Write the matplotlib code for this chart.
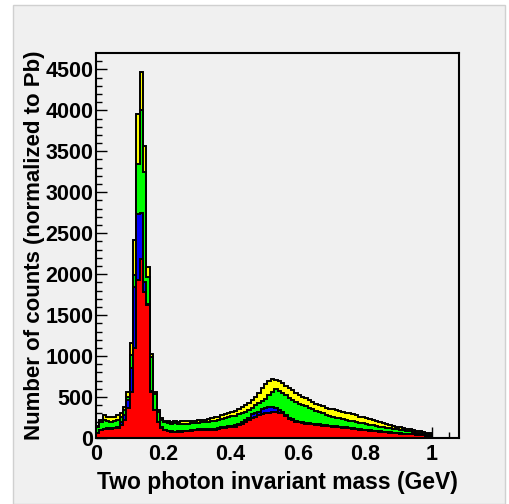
import numpy as np
import matplotlib.pyplot as plt
from matplotlib.patches import Rectangle

plt.rcParams['font.family'] = ['Liberation Sans', 'DejaVu Sans']
plt.rcParams['font.weight'] = 'bold'

# histogram binning: 100 bins of 0.01 GeV
bin_edges = np.linspace(0.0, 1.0, 101)

# stacked levels (top edge of each colour)
top_yellow = [150, 215, 280, 262, 252, 262, 285, 300, 382, 565,
              1162, 2423, 3960, 4467, 3561, 2082, 1024, 557, 341, 240,
              212, 205, 200, 203, 198, 205, 202, 208, 204, 212,
              218, 225, 222, 235, 245, 255, 262, 280, 298, 305,
              322, 335, 350, 375, 405, 430, 470, 505, 555, 610,
              655, 700, 716, 712, 690, 670, 640, 610, 585, 555,
              530, 505, 485, 462, 440, 420, 405, 390, 372, 360,
              350, 345, 335, 322, 310, 300, 292, 280, 262, 252,
              240, 228, 218, 205, 192, 180, 172, 160, 150, 140,
              130, 122, 115, 105, 98, 90, 80, 72, 65, 58]
top_green = [130, 200, 215, 205, 200, 210, 220, 260, 341, 504,
             1012, 1988, 3341, 4008, 3248, 1967, 992, 540, 320, 220,
             190, 182, 175, 178, 172, 170, 175, 172, 178, 180,
             185, 190, 195, 200, 205, 210, 220, 232, 245, 255,
             265, 272, 290, 305, 320, 345, 370, 400, 430, 455,
             480, 520, 560, 600, 575, 545, 520, 490, 465, 440,
             420, 400, 385, 370, 350, 330, 315, 300, 285, 272,
             260, 250, 240, 230, 220, 210, 202, 195, 185, 178,
             170, 162, 155, 145, 138, 130, 125, 118, 110, 104,
             98, 92, 85, 80, 72, 65, 58, 52, 45, 38]
top_blue = [60, 98, 112, 118, 120, 125, 130, 200, 280, 463,
            850, 1845, 2740, 2750, 1900, 1640, 570, 345, 200, 130,
            100, 88, 80, 78, 82, 80, 85, 90, 95, 100,
            105, 108, 110, 108, 112, 112, 120, 130, 140, 145,
            152, 160, 175, 195, 215, 250, 290, 300, 320, 350,
            370, 378, 375, 365, 340, 320, 285, 250, 230, 212,
            200, 195, 188, 180, 175, 170, 165, 160, 155, 150,
            146, 142, 140, 135, 130, 126, 120, 115, 108, 102,
            98, 94, 90, 85, 80, 77, 73, 70, 65, 60,
            57, 54, 52, 50, 47, 45, 40, 35, 30, 24]
top_red = [55, 98, 110, 115, 115, 120, 125, 160, 220, 362,
           565, 1100, 1927, 2191, 1780, 1620, 565, 341, 195, 125,
           95, 80, 75, 72, 75, 77, 80, 85, 90, 95,
           97, 98, 100, 100, 100, 102, 110, 118, 125, 132,
           138, 140, 155, 175, 195, 215, 240, 262, 280, 292,
           300, 310, 320, 321, 310, 300, 270, 232, 215, 200,
           190, 182, 176, 170, 165, 160, 155, 150, 146, 143,
           140, 136, 133, 128, 124, 120, 114, 108, 102, 97,
           93, 89, 85, 80, 76, 72, 68, 64, 60, 56,
           53, 50, 48, 46, 43, 41, 36, 31, 26, 20]

bg = '#f0f0f0'
fig = plt.figure(figsize=(5.09, 5.04), dpi=100, facecolor='white')
fig.patches.append(Rectangle((13 / 509, 0), 492 / 509, 499 / 504,
                             transform=fig.transFigure, facecolor=bg,
                             edgecolor='#d0d0d0', lw=1, zorder=-10))

ax = fig.add_axes([96 / 509, 1 - 438 / 504, 363 / 509, 385 / 504])
ax.set_facecolor(bg)

# ROOT THStack style: each cumulative level drawn over the previous one
for level, col in [(top_yellow, '#ffff00'), (top_green, '#00ff00'),
                   (top_blue, '#0000ff'), (top_red, '#ff0000')]:
    ax.stairs(level, bin_edges, fill=True, facecolor=col, edgecolor='none')
    ax.stairs(level, bin_edges, baseline=0, color='black', lw=1.4)

ax.set_xlim(0, 1.08)
ax.set_ylim(0, 4700)
ax.set_axisbelow(True)

ax.set_xticks(np.arange(0, 1.01, 0.2))
ax.set_xticklabels(['0', '0.2', '0.4', '0.6', '0.8', '1'])
ax.set_xticks(np.arange(0, 1.08, 0.05), minor=True)
ax.set_yticks(np.arange(0, 4501, 500))
ax.set_yticks(np.arange(0, 4700, 100), minor=True)
ax.tick_params(which='both', direction='in', top=False, right=False,
               labelsize=15.5, width=1)
ax.tick_params(axis='y', pad=2)
ax.tick_params(axis='x', pad=4)
ax.tick_params(which='major', length=8)
ax.tick_params(which='minor', length=4)
for s in ax.spines.values():
    s.set_linewidth(1.5)

ax.set_xlabel('Two photon invariant mass (GeV)', fontsize=16.5,
              fontweight='bold', labelpad=5)
ax.set_ylabel('Number of counts (normalized to Pb)', fontsize=16,
              fontweight='bold', labelpad=0)

plt.savefig('out.png', dpi=100, facecolor=fig.get_facecolor())
